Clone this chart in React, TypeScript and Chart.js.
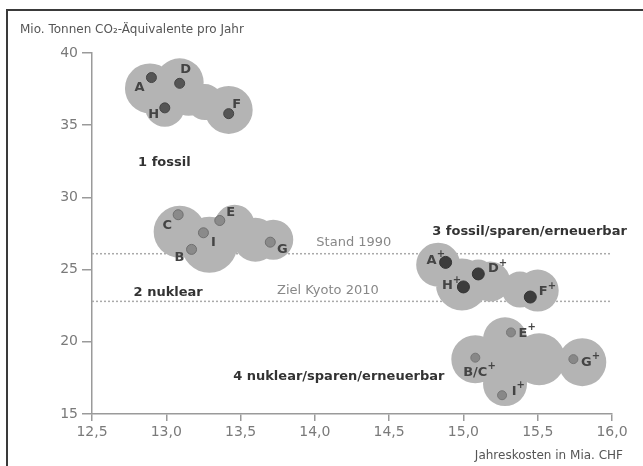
import { useEffect, useRef } from "react";
import { Chart, registerables } from "chart.js";

Chart.register(...registerables);

// ---- Axis ticks ----
const xTicks = [12.5, 13, 13.5, 14, 14.5, 15, 15.5, 16];
const yTicks = [15, 20, 25, 30, 35, 40];

// ---- Scenario points ----
const fossilLabels = ["A", "D", "H", "F"];
const fossilX = [12.9, 13.09, 12.99, 13.42];
const fossilY = [38.3, 37.9, 36.2, 35.8];

const nuclearLabels = ["C", "E", "I", "B", "G"];
const nuclearX = [13.08, 13.36, 13.25, 13.17, 13.7];
const nuclearY = [28.8, 28.4, 27.55, 26.4, 26.9];

const fossilPlusLabels = ["A", "D", "H", "F"];
const fossilPlusX = [14.88, 15.1, 15.0, 15.45];
const fossilPlusY = [25.5, 24.7, 23.8, 23.1];

const nuclearPlusLabels = ["E", "B/C", "G", "I"];
const nuclearPlusX = [15.32, 15.08, 15.74, 15.26];
const nuclearPlusY = [20.65, 18.9, 18.8, 16.3];

// ---- Reference levels ----
const stand1990 = 26.1;
const kyoto2010 = 22.8;

// ---- Cloud (shaded area) centres ----
const fossilCloudX = [12.89, 13.09, 12.99, 13.26, 13.42, 13.15];
const fossilCloudY = [37.55, 37.97, 36.28, 36.6, 36.06, 36.9];
const nuclearCloudX = [13.09, 13.29, 13.46, 13.6, 13.72, 13.4];
const nuclearCloudY = [27.62, 26.72, 28.1, 27.07, 27.07, 27.3];
const fossilPlusCloudX = [14.83, 14.99, 15.18, 15.38, 15.5, 15.1];
const fossilPlusCloudY = [25.34, 23.97, 24.17, 23.62, 23.55, 24.6];
const nuclearPlusCloudX = [15.08, 15.28, 15.28, 15.51, 15.8, 15.3];
const nuclearPlusCloudY = [18.79, 20.17, 17.07, 18.79, 18.59, 18.6];

// ---- Group captions ----
const groupCaptions = [
  "1 fossil",
  "2 nuklear",
  "3 fossil/sparen/erneuerbar",
  "4 nuklear/sparen/erneuerbar",
];
const groupCaptionX = [12.81, 12.78, 14.79, 13.45];
const groupCaptionY = [32.38, 23.41, 27.62, 17.62];

const refCaptions = ["Stand 1990", "Ziel Kyoto 2010"];
const refCaptionX = [14.01, 13.745];
const refCaptionY = [26.86, 23.55];

const yTitle = "Mio. Tonnen CO₂-Äquivalente pro Jahr";
const xTitle = "Jahreskosten in Mia. CHF";

// ---- Styles (not data) ----
const cloudRadii = {
  fossil: [25, 24, 20, 18, 24, 18],
  nuclear: [26, 28, 20, 22, 20, 20],
  fossilPlus: [22, 26, 20, 18, 21, 16],
  nuclearPlus: [24, 22, 22, 26, 24, 18],
};
const labelOffsets: Record<string, number[][]> = {
  fossil: [[-12, 10], [6, -14], [-11, 7], [8, -9]],
  nuclear: [[-11, 11], [11, -8], [10, 10], [-12, 8], [12, 7]],
  fossilPlus: [[-14, -2], [15, -5], [-16, -1], [13, -5]],
  nuclearPlus: [[12, 1], [0, 15], [13, 3], [12, -4]],
};

const FONT = "'DejaVu Sans', sans-serif";
const CLOUD = "#b4b4b4";

const zip = (xs: number[], ys: number[]) => xs.map((x, i) => ({ x, y: ys[i] }));
const fmt = (v: number) => v.toFixed(1).replace(".", ",");

const cloudDataset = (label: string, xs: number[], ys: number[], radii: number[]) => ({
  label,
  data: zip(xs, ys),
  pointRadius: radii,
  pointHoverRadius: radii,
  pointBackgroundColor: CLOUD,
  pointBorderWidth: 0,
  backgroundColor: CLOUD,
  order: 5,
});

const pointDataset = (label: string, xs: number[], ys: number[], r: number, fill: string, edge: string) => ({
  label,
  data: zip(xs, ys),
  pointRadius: r,
  pointBackgroundColor: fill,
  pointBorderColor: edge,
  pointBorderWidth: 1,
  backgroundColor: fill,
  borderColor: edge,
  order: 1,
});

export default function App() {
  const ref = useRef<HTMLCanvasElement | null>(null);

  useEffect(() => {
    if (!ref.current) return;

    const groups = [
      { key: "fossil", labels: fossilLabels, x: fossilX, y: fossilY, plus: false },
      { key: "nuclear", labels: nuclearLabels, x: nuclearX, y: nuclearY, plus: false },
      { key: "fossilPlus", labels: fossilPlusLabels, x: fossilPlusX, y: fossilPlusY, plus: true },
      { key: "nuclearPlus", labels: nuclearPlusLabels, x: nuclearPlusX, y: nuclearPlusY, plus: true },
    ];

    const annotate = {
      id: "annotate",
      beforeDraw(chart: any) {
        const c = chart.ctx;
        c.save();
        c.fillStyle = "#ffffff";
        c.fillRect(0, 0, chart.width, chart.height);
        c.strokeStyle = "#3a3a3a";
        c.lineWidth = 2;
        c.beginPath();
        c.moveTo(7, chart.height);
        c.lineTo(7, 10);
        c.lineTo(chart.width, 10);
        c.stroke();
        c.restore();
      },
      // draw each cloud as one merged shape (union of its circles)
      beforeDatasetDraw(chart: any, args: any) {
        const ds = chart.data.datasets[args.index];
        if (!String(ds.label).startsWith("cloud")) return;
        const c = chart.ctx;
        c.save();
        c.fillStyle = CLOUD;
        c.beginPath();
        args.meta.data.forEach((el: any) => {
          const r = el.options.radius;
          c.moveTo(el.x + r, el.y);
          c.arc(el.x, el.y, r, 0, Math.PI * 2);
        });
        c.fill("nonzero");
        c.restore();
        return false;
      },
      afterDatasetsDraw(chart: any) {
        const c = chart.ctx;
        const sx = chart.scales.x;
        const sy = chart.scales.y;
        c.save();
        c.fillStyle = "#444";
        c.textBaseline = "middle";
        groups.forEach((g) => {
          g.labels.forEach((lab, i) => {
            const px = sx.getPixelForValue(g.x[i]) + labelOffsets[g.key][i][0];
            const py = sy.getPixelForValue(g.y[i]) + labelOffsets[g.key][i][1];
            c.font = `bold 13px ${FONT}`;
            c.textAlign = "center";
            c.fillText(lab, px, py);
            if (g.plus) {
              const w = c.measureText(lab).width;
              c.font = `bold 10px ${FONT}`;
              c.textAlign = "left";
              c.fillText("+", px + w / 2, py - 6);
            }
          });
        });
        c.fillStyle = "#333";
        c.font = `bold 13px ${FONT}`;
        c.textAlign = "left";
        groupCaptions.forEach((t, i) => {
          c.fillText(t, sx.getPixelForValue(groupCaptionX[i]), sy.getPixelForValue(groupCaptionY[i]));
        });
        c.fillStyle = "#888";
        c.font = `13px ${FONT}`;
        refCaptions.forEach((t, i) => {
          c.fillText(t, sx.getPixelForValue(refCaptionX[i]), sy.getPixelForValue(refCaptionY[i]));
        });
        c.fillStyle = "#555";
        c.font = `12px ${FONT}`;
        c.textAlign = "left";
        c.fillText(yTitle, 20, 30);
        c.textAlign = "right";
        c.fillText(xTitle, 623, 456);
        c.restore();
      },
    };

    const chart = new Chart(ref.current, {
      type: "scatter",
      data: {
        datasets: [
          {
            type: "line",
            label: "Stand 1990",
            data: zip([12.5, 16], [stand1990, stand1990]),
            borderColor: "#aaa",
            borderWidth: 1.5,
            borderDash: [2, 2],
            pointRadius: 0,
            order: 10,
          } as any,
          {
            type: "line",
            label: "Ziel Kyoto 2010",
            data: zip([12.5, 16], [kyoto2010, kyoto2010]),
            borderColor: "#aaa",
            borderWidth: 1.5,
            borderDash: [2, 2],
            pointRadius: 0,
            order: 10,
          } as any,
          cloudDataset("cloud1", fossilCloudX, fossilCloudY, cloudRadii.fossil),
          cloudDataset("cloud2", nuclearCloudX, nuclearCloudY, cloudRadii.nuclear),
          cloudDataset("cloud3", fossilPlusCloudX, fossilPlusCloudY, cloudRadii.fossilPlus),
          cloudDataset("cloud4", nuclearPlusCloudX, nuclearPlusCloudY, cloudRadii.nuclearPlus),
          pointDataset("1 fossil", fossilX, fossilY, 5, "#555", "#444"),
          pointDataset("2 nuklear", nuclearX, nuclearY, 5, "#8a8a8a", "#707070"),
          pointDataset("3 fossil/sparen/erneuerbar", fossilPlusX, fossilPlusY, 6, "#3c3c3c", "#333"),
          pointDataset("4 nuklear/sparen/erneuerbar", nuclearPlusX, nuclearPlusY, 4.5, "#888", "#777"),
        ] as any,
      },
      options: {
        animation: false,
        responsive: false,
        events: [],
        layout: { padding: { left: 0, top: 53, right: 31, bottom: 0 }, autoPadding: false },
        plugins: { legend: { display: false }, tooltip: { enabled: false }, title: { display: false } },
        scales: {
          x: {
            type: "linear",
            min: 12.5,
            max: 16,
            afterBuildTicks: (s: any) => {
              s.ticks = xTicks.map((v) => ({ value: v }));
            },
            afterFit: (s: any) => {
              s.height = 52;
            },
            ticks: {
              callback: (v: any) => fmt(Number(v)),
              font: { family: FONT, size: 14 },
              color: "#7a7a7a",
              padding: 3,
              maxRotation: 0,
              autoSkip: false,
            },
            grid: { drawOnChartArea: false, drawTicks: true, tickLength: 7, color: "#9a9a9a", lineWidth: 1.5 },
            border: { display: true, color: "#9a9a9a", width: 1.5 },
          },
          y: {
            type: "linear",
            min: 15,
            max: 40,
            afterBuildTicks: (s: any) => {
              s.ticks = yTicks.map((v) => ({ value: v }));
            },
            afterFit: (s: any) => {
              s.width = 92;
            },
            ticks: {
              callback: (v: any) => String(v),
              font: { family: FONT, size: 14 },
              color: "#7a7a7a",
              padding: 4,
              autoSkip: false,
            },
            grid: { drawOnChartArea: false, drawTicks: true, tickLength: 10, color: "#9a9a9a", lineWidth: 1.5 },
            border: { display: true, color: "#9a9a9a", width: 1.5 },
          },
        },
      } as any,
      plugins: [annotate],
    });

    return () => chart.destroy();
  }, []);

  return (
    <div style={{ position: "fixed", left: 0, top: 0, width: 643, height: 466, background: "#fff" }}>
      <canvas ref={ref} width={643} height={466} style={{ width: 643, height: 466, display: "block" }} />
    </div>
  );
}
